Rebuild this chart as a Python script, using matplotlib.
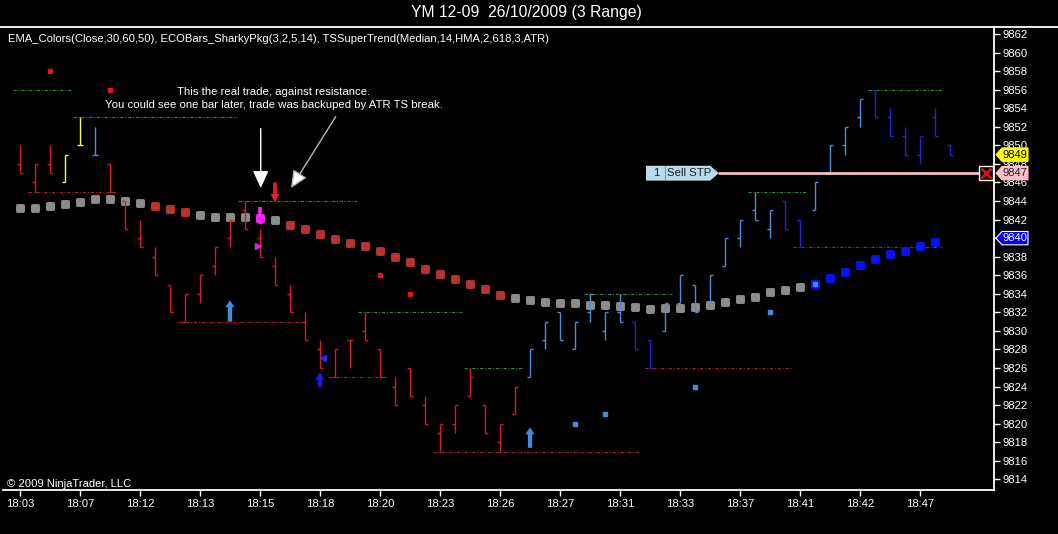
import matplotlib
matplotlib.use("Agg")
import matplotlib.pyplot as plt
from matplotlib.patches import Polygon, FancyArrow
from matplotlib.lines import Line2D
from matplotlib.markers import MarkerStyle

plt.rcParams['font.family'] = ['Liberation Sans', 'DejaVu Sans']

# ---- YM 12-09 3 range bars, one entry per bar ----
highs  = [9850, 9848, 9850, 9849, 9853, 9852, 9848, 9844, 9842, 9839,
          9835, 9834, 9836, 9839, 9842, 9844, 9841, 9838, 9835, 9832,
          9829, 9828, 9829, 9832, 9828, 9825, 9826, 9823, 9820, 9822,
          9826, 9822, 9820, 9824, 9828, 9831, 9832, 9831, 9834, 9832,
          9834, 9831, 9829, 9833, 9836, 9835, 9836, 9840, 9842, 9845,
          9843, 9844, 9842, 9846, 9850, 9852, 9855, 9856, 9854, 9852,
          9851, 9854, 9850]
lows   = [9847, 9845, 9847, 9846, 9850, 9849, 9845, 9841, 9839, 9836,
          9832, 9831, 9833, 9836, 9839, 9841, 9838, 9835, 9832, 9829,
          9826, 9825, 9826, 9829, 9825, 9822, 9823, 9820, 9817, 9819,
          9823, 9819, 9817, 9821, 9825, 9828, 9829, 9828, 9831, 9829,
          9831, 9828, 9826, 9830, 9833, 9832, 9833, 9837, 9839, 9842,
          9840, 9841, 9839, 9843, 9847, 9849, 9852, 9853, 9851, 9849,
          9848, 9851, 9849]
opens  = [9848, 9846, 9848, 9846, 9850, 9849, 9848, 9844, 9840, 9838,
          9835, 9831, 9834, 9837, 9840, 9843, 9840, 9837, 9834, 9831,
          9828, 9825, 9829, 9830, 9828, 9824, 9826, 9822, 9819, 9820,
          9823, 9822, 9818, 9821, 9825, 9829, 9832, 9828, 9832, 9830,
          9832, 9831, 9829, 9830, 9833, 9835, 9833, 9837, 9840, 9843,
          9841, 9844, 9842, 9843, 9847, 9850, 9853, 9856, 9853, 9851,
          9849, 9853, 9850]
closes = [9847, 9848, 9847, 9849, 9850, 9849, 9845, 9841, 9839, 9836,
          9832, 9834, 9836, 9839, 9842, 9841, 9838, 9835, 9832, 9829,
          9826, 9828, 9829, 9829, 9825, 9822, 9823, 9820, 9820, 9822,
          9825, 9819, 9820, 9824, 9828, 9831, 9829, 9831, 9834, 9832,
          9831, 9828, 9826, 9833, 9836, 9832, 9836, 9840, 9842, 9842,
          9843, 9841, 9839, 9846, 9850, 9852, 9855, 9853, 9851, 9849,
          9851, 9851, 9849]
# r red, y yellow, L light blue, D dark blue
bar_cols = "rrryyLrrrrrrrrrrrrrrrrrrrrrrrrrrrrLLLLLLLDDLLLLLLLLDDLLLLDDDDDD"

# EMA dots (one per finished bar)
ema = [9843.2, 9843.3, 9843.5, 9843.7, 9843.9, 9844.2, 9844.2, 9844.0, 9843.8, 9843.5,
       9843.1, 9842.8, 9842.5, 9842.3, 9842.3, 9842.3, 9842.2, 9841.9, 9841.4, 9841.0,
       9840.4, 9839.9, 9839.5, 9839.1, 9838.6, 9838.0, 9837.4, 9836.7, 9836.1, 9835.6,
       9835.1, 9834.5, 9833.9, 9833.5, 9833.3, 9833.1, 9833.0, 9833.0, 9832.8, 9832.8,
       9832.7, 9832.6, 9832.4, 9832.5, 9832.5, 9832.6, 9832.8, 9833.1, 9833.4, 9833.7,
       9834.2, 9834.4, 9834.7, 9835.1, 9835.7, 9836.3, 9837.1, 9837.7, 9838.3, 9838.6,
       9839.1, 9839.6]
ema_cols = "gggggggggrrrggggmgrrrrrrrrrrrrrrrggggggggggggggggggggbbbbbbbbbb"[:62]

# resistance / support levels: first bar, last bar, price
res_start = [-0.45, 3.55, 14.55, 22.55, 29.6, 37.6, 48.55, 56.55]
res_end   = [3.45, 14.45, 22.45, 29.45, 33.45, 43.45, 52.45, 61.5]
res_price = [9856, 9853, 9844, 9832, 9826, 9834, 9845, 9856]
sup_start = [0.55, 10.55, 20.55, 27.55, 41.65, 51.55]
sup_end   = [6.4, 18.85, 24.45, 41.35, 51.5, 61.45]
sup_price = [9845, 9831, 9825, 9817, 9826, 9839]

# small signal squares
sig_red_x = [2, 6, 24, 26]
sig_red_y = [9858, 9856, 9836, 9834]
sig_blue_x = [37, 39, 45, 50, 53]
sig_blue_y = [9820, 9821, 9824, 9832, 9835.1]

# trend arrows
up_x    = [14, 20, 34]
up_base = [9831.0, 9824.0, 9817.4]
up_tip  = [9833.3, 9825.5, 9819.6]
up_cols = ['#3c8ee0', '#1a1aee', '#3c8ee0']
dn_x, dn_base, dn_tip = 17, 9846.0, 9843.9

xtick_pos = [0, 4, 8, 12, 16, 20, 24, 28, 32, 36, 40, 44, 48, 52, 56, 60]
xtick_lab = ['18:03', '18:07', '18:12', '18:13', '18:15', '18:18', '18:20', '18:23',
             '18:26', '18:27', '18:31', '18:33', '18:37', '18:41', '18:42', '18:47']

colmap = {'r': '#d02020', 'y': '#ffff50', 'L': '#4a90dc', 'D': '#2424d0'}
emamap = {'g': '#8c8c8c', 'r': '#b83232', 'b': '#0a10ff', 'm': '#ff20ff'}

fig = plt.figure(figsize=(10.58, 5.34), dpi=100, facecolor='black')
ax = fig.add_axes([3/1058, 44/534, 991/1058, 463/534], facecolor='black')
ax.set_xlim(-1.13, 64.93)
ax.set_ylim(9812.86, 9862.75)

# levels
for s, e, p in zip(res_start, res_end, res_price):
    ax.plot([s, e], [p, p], color='#2f8f2f', lw=0.8, dashes=(3, 1.5, 1, 1.5), zorder=1)
for s, e, p in zip(sup_start, sup_end, sup_price):
    ax.plot([s, e], [p, p], color='#a82424', lw=0.8, dashes=(3, 1.5, 1, 1.5), zorder=1)

# EMA dots
rsq = MarkerStyle('s', joinstyle='round')
for i, (v, c) in enumerate(zip(ema, ema_cols)):
    ax.plot(i, v, marker=rsq, ms=3.9, mew=2.1, color=emamap[c], zorder=2)

# range bars
xs = range(len(highs))
cols = [colmap[c] for c in bar_cols]
ax.vlines(xs, lows, highs, colors=cols, lw=1.0, zorder=3)
ax.hlines(opens, [x - 0.2 for x in xs], xs, colors=cols, lw=1.0, zorder=3)
ax.hlines(closes, xs, [x + 0.2 for x in xs], colors=cols, lw=1.0, zorder=3)

# signal squares
ax.plot(sig_red_x, sig_red_y, 's', ms=3, color='#e01818', zorder=4)
ax.plot(sig_blue_x, sig_blue_y, 's', ms=3, color='#3c8ee0', zorder=4)

# arrows
for x, b, t, c in zip(up_x, up_base, up_tip, up_cols):
    ax.add_patch(FancyArrow(x, b, 0, t - b, width=0.28, head_width=0.62,
                            head_length=0.75, length_includes_head=True,
                            color=c, lw=0, zorder=5))
ax.add_patch(FancyArrow(dn_x, dn_base, 0, dn_tip - dn_base, width=0.25, head_width=0.6,
                        head_length=0.85, length_includes_head=True,
                        color='#e82020', lw=0, zorder=5))

# entry marker at bar 16
ax.plot([16, 16], [9842.3, 9843.4], color='#ff20ff', lw=2.6, solid_capstyle='butt', zorder=5)
ax.plot(16, 9842.1, 'o', ms=5.5, color='#ff20ff', zorder=5)
ax.plot(15.87, 9839.1, '>', ms=4.5, color='#e020e0', zorder=5)
ax.plot(20.2, 9827.1, '<', ms=4.5, color='#2a2ae8', zorder=5)

# working order: Sell STP at 9847
stp = 9847
ax.add_patch(Polygon([(41.76, stp - 0.75), (46.0, stp - 0.75), (46.53, stp),
                      (46.0, stp + 0.75), (41.76, stp + 0.75)], closed=True,
                     fc='#b4dcec', ec='#d8eef6', lw=0.6, zorder=6))
ax.plot([43.0, 43.0], [stp - 0.75, stp + 0.75], color='#7c9aa8', lw=0.8, zorder=7)
ax.text(42.4, stp, '1', ha='center', va='center', fontsize=8.2, color='#202020', zorder=7)
ax.text(44.6, stp, 'Sell STP', ha='center', va='center', fontsize=8.2, color='#202020', zorder=7)
ax.hlines(stp, 46.53, 63.93, color='#ffc4cc', lw=1.9, zorder=6)
ax.plot(64.4, stp, 's', ms=10, mfc='black', mec='white', mew=1, zorder=7)
ax.plot(64.4, stp, 'x', ms=6.5, mew=2, color='#e01010', zorder=8)

# comments
ax.annotate('', xy=(16.05, 9845.4), xytext=(16.05, 9851.8),
            arrowprops=dict(arrowstyle='-|>,head_length=1.05,head_width=0.48',
                            mutation_scale=10, fc='white', ec='white', lw=1,
                            shrinkA=0, shrinkB=0), zorder=9)
ax.annotate('', xy=(18.07, 9845.4), xytext=(21.05, 9853.1),
            arrowprops=dict(arrowstyle='-|>,head_length=1.05,head_width=0.48',
                            mutation_scale=10, fc='white', ec='#b8b8b8', lw=1,
                            shrinkA=0, shrinkB=0), zorder=9)

# axes styling
for side in ['left', 'top']:
    ax.spines[side].set_visible(False)
for side in ['right', 'bottom']:
    ax.spines[side].set_color('white')
    ax.spines[side].set_linewidth(1.3)
ax.yaxis.tick_right()
ax.set_yticks(range(9814, 9863, 2))
ax.set_xticks(xtick_pos)
ax.set_xticklabels(xtick_lab)
ax.tick_params(colors='white', labelsize=8.1, length=4.5, width=1.0, pad=2)
ax.tick_params(axis='y', pad=1.5)

# price tags on the axis
def tag(p, txt, fc, tc, ec):
    tr = ax.get_yaxis_transform()
    a, b, c = 1 + 2/991, 1 + 8/991, 1 + 34/991
    ax.add_patch(Polygon([(a, p), (b, p + 0.72), (c, p + 0.72), (c, p - 0.72), (b, p - 0.72)],
                         closed=True, transform=tr, fc=fc, ec=ec, lw=0.8,
                         clip_on=False, zorder=10))
    ax.text(1 + 21/991, p, txt, transform=tr, ha='center', va='center',
            fontsize=8.1, color=tc, clip_on=False, zorder=11)

tag(9849, '9849', '#ffff00', 'black', '#ffff00')
tag(9847, '9847', '#ffc0c8', '#202020', '#ffc0c8')
tag(9840, '9840', '#0000ff', 'white', 'white')

# header and texts
fig.add_artist(Line2D([0, 1], [1 - 26.7/534, 1 - 26.7/534], color='white', lw=1.3))
fig.text(526/1058, 1 - 13/534, 'YM 12-09  26/10/2009 (3 Range)', ha='center', va='center',
         fontsize=11.3, color='white')
fig.text(8/1058, 1 - 39/534,
         'EMA_Colors(Close,30,60,50), ECOBars_SharkyPkg(3,2,5,14), TSSuperTrend(Median,14,HMA,2,618,3,ATR)',
         ha='left', va='center', fontsize=8.1, color='white')
fig.text(274/1058, 1 - 92/534, 'This the real trade, against resistance.',
         ha='center', va='center', fontsize=8.2, color='white')
fig.text(274/1058, 1 - 105.5/534, 'You could see one bar later, trade was backuped by ATR TS break.',
         ha='center', va='center', fontsize=8.2, color='white')
fig.text(7/1058, 1 - 484/534, '\u00a9 2009 NinjaTrader, LLC', ha='left', va='center',
         fontsize=8.1, color='white')

fig.savefig('out.png', dpi=100, facecolor='black')
